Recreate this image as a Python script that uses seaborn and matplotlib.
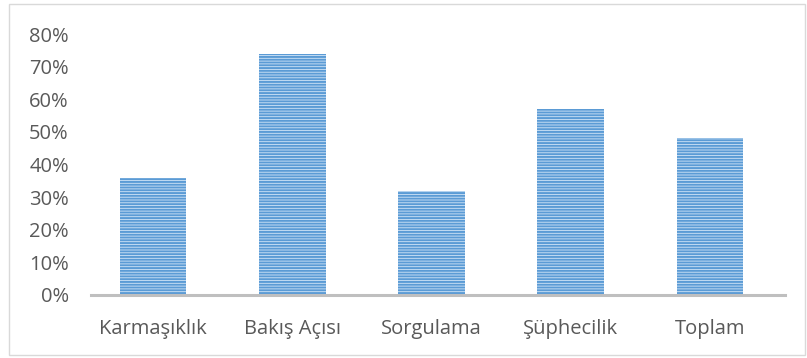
import matplotlib
matplotlib.use('Agg')
import matplotlib.pyplot as plt
from matplotlib.patches import Rectangle
from matplotlib.ticker import PercentFormatter
import seaborn as sns

# --- data ---
categories = ['Karmaşıklık', 'Bakış Açısı', 'Sorgulama', 'Şüphecilik', 'Toplam']
values = [0.36, 0.74, 0.32, 0.57, 0.48]
y_ticks = [0, 0.1, 0.2, 0.3, 0.4, 0.5, 0.6, 0.7, 0.8]

sns.set_style('white')
plt.rcParams['font.family'] = ['Open Sans', 'DejaVu Sans']
plt.rcParams['hatch.linewidth'] = 1.4

W, H = 807, 358
fig = plt.figure(figsize=(W / 100, H / 100), dpi=100)
ax = fig.add_axes([91 / W, (H - 295) / H, (785 - 91) / W, (295 - 34) / H])

sns.barplot(x=categories, y=values, color='#d2e5f7', width=0.48, ax=ax,
            saturation=1)
for bar in ax.patches:
    bar.set_hatch('------')
    bar.set_edgecolor('#5b9bd5')
    bar.set_linewidth(0)

ax.set_xlim(-0.445, 4.539)
ax.set_ylim(0, 0.8)
ax.set_yticks(y_ticks)
ax.yaxis.set_major_formatter(PercentFormatter(1.0, decimals=0))

for s in ['top', 'right', 'left']:
    ax.spines[s].set_visible(False)
ax.spines['bottom'].set_color('#bfbfbf')
ax.spines['bottom'].set_linewidth(2.2)

ax.tick_params(axis='y', length=0, pad=16, labelsize=14.5, labelcolor='#595959')
ax.tick_params(axis='x', length=0, pad=17, labelsize=14.5, labelcolor='#595959')
ax.set_xlabel('')
ax.set_ylabel('')

# light frame around the chart
fig.patches.append(Rectangle((9 / W, 3 / H), (805 - 9) / W, (354 - 3) / H,
                             transform=fig.transFigure, fill=False,
                             edgecolor='#d9d9d9', linewidth=1))

fig.savefig('out.png', dpi=100)
